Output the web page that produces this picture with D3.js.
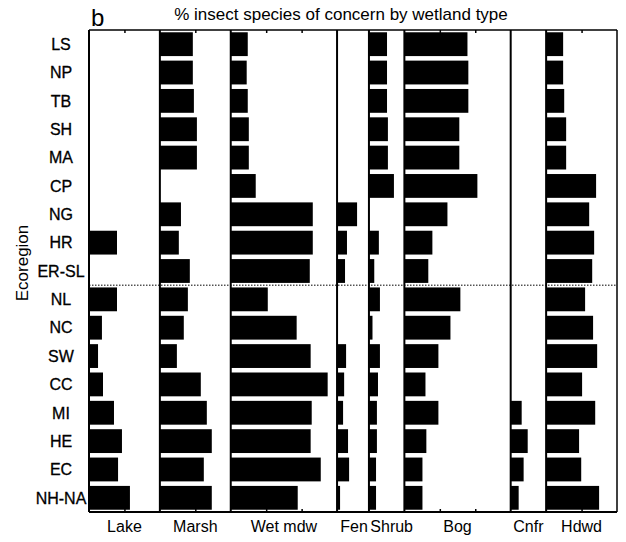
<!DOCTYPE html>
<html>
<head>
<meta charset="utf-8">
<script src="https://cdn.jsdelivr.net/npm/d3@7"></script>
<style>
body { margin: 0; background: #fff; }
text { font-family: "Liberation Sans", Arial, Helvetica, sans-serif; fill: #000; }
</style>
</head>
<body>
<script>
var regions = ["LS","NP","TB","SH","MA","CP","NG","HR","ER-SL","NL","NC","SW","CC","MI","HE","EC","NH-NA"];
var types = ["Lake","Marsh","Wet mdw","Fen","Shrub","Bog","Cnfr","Hdwd"];
var typeMax = [40,40,60,18,20,60,20,40];
var tickVals = [20,40];

// % insect species of concern, one array per wetland type (order = regions)
var lake   = [0,0,0,0,0,0,0,15.8,0,15.8,7.3,5.1,7.9,14.1,18.6,16.4,23.1];
var marsh  = [18.6,18.6,19.2,20.9,20.9,0,11.9,10.7,16.9,15.8,13.5,9.6,23.1,26.5,29.3,24.8,29.3];
var wetMdw = [9.6,9.0,9.6,10.2,10.2,14.1,46.3,46.3,44.6,20.9,37.2,45.1,54.7,45.7,45.1,50.8,37.8];
var fen    = [0,0,0,0,0,0,11.3,5.6,4.5,0,0,5.1,4.0,3.4,6.2,6.8,1.7];
var shrub  = [10.2,10.2,10.2,10.7,10.7,14.1,0,5.6,3,6.2,2,6.2,5.1,4.5,4.5,4.0,4.0];
var bog    = [35.6,36.1,36.1,31.0,31.0,41.2,24.3,15.8,13.5,31.6,26.0,19.2,11.9,19.2,12.4,10.2,10.2];
var cnfr   = [0,0,0,0,0,0,0,0,0,0,0,0,0,6.2,9.6,7.3,4.5];
var hdwd   = [9.6,9.6,10.2,11.3,11.3,28.2,24.3,27.1,26.0,22.0,26.5,28.8,20.3,27.7,18.6,19.8,29.9];
var series = [lake, marsh, wetMdw, fen, shrub, bog, cnfr, hdwd];

var width = 626, height = 542;
var plotLeft = 89, plotRight = 617, plotTop = 30, plotBottom = 512;

var svg = d3.select("body")
            .append("svg")
            .attr("width", width)
            .attr("height", height);

var y = d3.scaleBand()
          .domain(regions)
          .range([plotTop, plotBottom])
          .paddingInner(0.16)
          .paddingOuter(0.08);

// all panels share one units-per-pixel scale
var total = d3.sum(typeMax);
var xAll = d3.scaleLinear().domain([0, total]).range([plotLeft, plotRight]);
var starts = Array.from(d3.cumsum([0].concat(typeMax.slice(0, -1))));

types.forEach(function(t, i) {
  var x = d3.scaleLinear()
            .domain([0, typeMax[i]])
            .range([xAll(starts[i]), xAll(starts[i] + typeMax[i])]);
  var g = svg.append("g");

  var rows = series[i].map(function(v, j) { return {v: v, r: regions[j]}; })
                      .filter(function(d) { return d.v > 0; });

  g.selectAll("rect")
   .data(rows)
   .enter()
   .append("rect")
   .attr("x", x(0))
   .attr("y", function(d) { return y(d.r); })
   .attr("width", function(d) { return x(d.v) - x(0); })
   .attr("height", y.bandwidth())
   .attr("fill", "#000");

  var tv = tickVals.filter(function(v) { return v < typeMax[i]; });
  var topAxis = d3.axisTop(x).tickValues(tv).tickSize(-3).tickFormat("");
  var botAxis = d3.axisBottom(x).tickValues(tv).tickSize(-3).tickFormat("");
  g.append("g").attr("transform", "translate(0," + plotTop + ")").call(topAxis)
   .call(function(s) { s.select(".domain").remove(); s.selectAll("line").attr("stroke-width", 1.5); });
  g.append("g").attr("transform", "translate(0," + plotBottom + ")").call(botAxis)
   .call(function(s) { s.select(".domain").remove(); s.selectAll("line").attr("stroke-width", 1.5); });

  // panel left edge
  g.append("line")
   .attr("x1", x(0)).attr("x2", x(0))
   .attr("y1", plotTop).attr("y2", plotBottom)
   .attr("stroke", "#000").attr("stroke-width", 2);

  // Fen and Shrub are narrow, nudge their names apart
  var nudge = t === "Fen" ? 1 : t === "Shrub" ? 5 : 0;
  g.append("text")
   .attr("x", (x.range()[0] + x.range()[1]) / 2 + nudge)
   .attr("y", 532)
   .attr("text-anchor", "middle")
   .attr("font-size", 16)
   .text(t);
});

// frame
svg.append("line").attr("x1", plotLeft).attr("x2", plotRight).attr("y1", plotTop).attr("y2", plotTop)
   .attr("stroke", "#000").attr("stroke-width", 1.5);
svg.append("line").attr("x1", plotLeft).attr("x2", plotRight).attr("y1", plotBottom).attr("y2", plotBottom)
   .attr("stroke", "#000").attr("stroke-width", 2);
svg.append("line").attr("x1", plotRight).attr("x2", plotRight).attr("y1", plotTop).attr("y2", plotBottom)
   .attr("stroke", "#000").attr("stroke-width", 1.5);

// dotted divider between ER-SL and NL
var yDiv = (y("ER-SL") + y.bandwidth() + y("NL")) / 2;
svg.append("line").attr("x1", plotLeft).attr("x2", plotRight).attr("y1", yDiv).attr("y2", yDiv)
   .attr("stroke", "#000").attr("stroke-width", 1).attr("stroke-dasharray", "1.5,1.5");

// row labels
svg.append("g")
   .selectAll("text")
   .data(regions)
   .enter()
   .append("text")
   .attr("x", 61)
   .attr("y", function(d) { return y(d) + y.bandwidth() / 2; })
   .attr("dy", "0.36em")
   .attr("text-anchor", "middle")
   .attr("font-size", 16)
   .attr("stroke", "#000").attr("stroke-width", 0.3)
   .text(function(d) { return d; });

svg.append("text")
   .attr("transform", "translate(28,263) rotate(-90)")
   .attr("text-anchor", "middle")
   .attr("font-size", 17)
   .text("Ecoregion");

svg.append("text")
   .attr("x", 341).attr("y", 20)
   .attr("text-anchor", "middle")
   .attr("font-size", 17)
   .text("% insect species of concern by wetland type");

svg.append("text")
   .attr("x", 91).attr("y", 26)
   .attr("font-size", 24)
   .text("b");
</script>
</body>
</html>
